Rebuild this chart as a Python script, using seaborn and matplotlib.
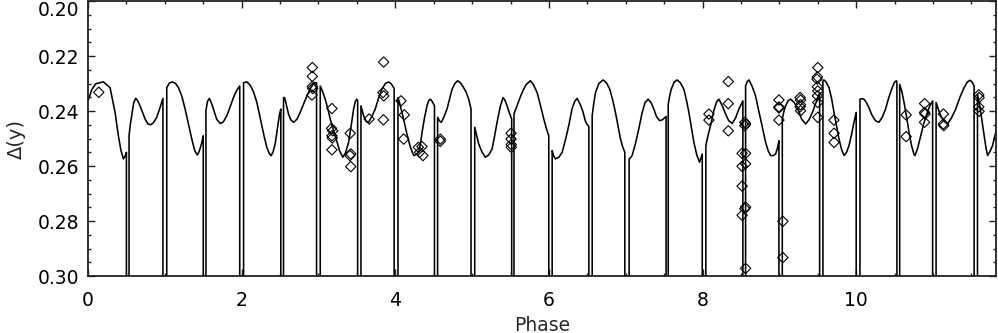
import numpy as np
import pandas as pd
import seaborn as sns
import matplotlib.pyplot as plt
from matplotlib.ticker import MultipleLocator

# model light curve, one list per stretch between eclipses
segments = [
    [(0.0, 0.2362), (0.05, 0.2322), (0.10, 0.2301), (0.20, 0.2294), (0.287, 0.2315), (0.352, 0.2405),
     (0.395, 0.2490), (0.43, 0.2545), (0.46, 0.2574), (0.48, 0.2565), (0.50, 0.2550)],
    [(0.534, 0.2490), (0.55, 0.2450), (0.569, 0.2417), (0.595, 0.2370), (0.621, 0.2354), (0.645, 0.2362),
     (0.677, 0.2381), (0.743, 0.2429), (0.78, 0.2447), (0.816, 0.2450), (0.85, 0.2443), (0.894, 0.2423),
     (0.935, 0.2390), (0.975, 0.2354)],
    [(1.025, 0.2315), (1.06, 0.2298), (1.099, 0.2294), (1.14, 0.2300), (1.177, 0.2315), (1.22, 0.2345),
     (1.264, 0.2393), (1.31, 0.2450), (1.351, 0.2502), (1.39, 0.2545), (1.424, 0.2560), (1.45, 0.2545),
     (1.48, 0.2516), (1.50, 0.2490)],
    [(1.535, 0.2399), (1.555, 0.2365), (1.58, 0.2354), (1.605, 0.2370), (1.633, 0.2393), (1.675, 0.2430),
     (1.72, 0.2445), (1.76, 0.2440), (1.807, 0.2417), (1.85, 0.2385), (1.893, 0.2351), (1.935, 0.2325),
     (1.975, 0.2309)],
    [(2.025, 0.2297), (2.067, 0.2294), (2.111, 0.2306), (2.154, 0.2330), (2.198, 0.2369), (2.23, 0.2410),
     (2.263, 0.2453), (2.295, 0.2495), (2.328, 0.2532), (2.36, 0.2555), (2.384, 0.2562), (2.41, 0.2548),
     (2.436, 0.2520), (2.465, 0.2465), (2.493, 0.2411), (2.51, 0.2393)],
    [(2.545, 0.2351), (2.558, 0.2351), (2.58, 0.2375), (2.61, 0.2411), (2.64, 0.2432), (2.675, 0.2441),
     (2.72, 0.2430), (2.762, 0.2405), (2.805, 0.2375), (2.85, 0.2345), (2.90, 0.2315), (2.945, 0.2297),
     (2.975, 0.2297)],
    [(3.023, 0.2309), (3.055, 0.2330), (3.088, 0.2357), (3.12, 0.2390), (3.153, 0.2429), (3.19, 0.2465),
     (3.231, 0.2502), (3.275, 0.2545), (3.318, 0.2568), (3.355, 0.2550), (3.392, 0.2514), (3.425, 0.2455),
     (3.457, 0.2393), (3.48, 0.2365), (3.50, 0.2357), (3.51, 0.2362)],
    [(3.553, 0.2381), (3.587, 0.2417), (3.62, 0.2437), (3.652, 0.2441), (3.695, 0.2420), (3.739, 0.2393),
     (3.78, 0.2355), (3.826, 0.2321), (3.87, 0.2300), (3.913, 0.2294), (3.95, 0.2302), (3.985, 0.2318)],
    [(4.035, 0.2351), (4.06, 0.2375), (4.087, 0.2405), (4.12, 0.2445), (4.152, 0.2484), (4.195, 0.2530),
     (4.239, 0.2562), (4.27, 0.2558), (4.304, 0.2550), (4.33, 0.2515), (4.348, 0.2478), (4.38, 0.2425),
     (4.413, 0.2381), (4.435, 0.2362), (4.456, 0.2357), (4.48, 0.2365), (4.51, 0.2381)],
    [(4.551, 0.2423), (4.575, 0.2436), (4.60, 0.2441), (4.635, 0.2420), (4.673, 0.2393), (4.705, 0.2358),
     (4.739, 0.2321), (4.775, 0.2300), (4.812, 0.2290), (4.85, 0.2298), (4.89, 0.2315), (4.925, 0.2333),
     (4.955, 0.2357), (4.986, 0.2393)],
    [(5.034, 0.2459), (5.06, 0.2490), (5.086, 0.2520), (5.13, 0.2550), (5.173, 0.2568), (5.215, 0.2560),
     (5.26, 0.2538), (5.29, 0.2495), (5.325, 0.2441), (5.365, 0.2385), (5.403, 0.2351), (5.43, 0.2362),
     (5.455, 0.2381), (5.48, 0.2403), (5.515, 0.2429)],
    [(5.545, 0.2411), (5.565, 0.2395), (5.585, 0.2381), (5.615, 0.2358), (5.65, 0.2333), (5.70, 0.2305),
     (5.759, 0.2290), (5.80, 0.2305), (5.846, 0.2333), (5.89, 0.2380), (5.933, 0.2429), (5.965, 0.2462),
     (5.998, 0.2490)],
    [(6.042, 0.2544), (6.06, 0.2562), (6.085, 0.2574), (6.13, 0.2568), (6.172, 0.2550), (6.215, 0.2505),
     (6.258, 0.2453), (6.30, 0.2393), (6.335, 0.2365), (6.367, 0.2354), (6.41, 0.2378), (6.44, 0.2400),
     (6.476, 0.2438), (6.50, 0.2450), (6.52, 0.2456)],
    [(6.563, 0.2417), (6.585, 0.2370), (6.606, 0.2333), (6.65, 0.2300), (6.706, 0.2287), (6.75, 0.2298),
     (6.792, 0.2321), (6.83, 0.2360), (6.866, 0.2405), (6.90, 0.2455), (6.932, 0.2502), (6.96, 0.2530),
     (6.988, 0.2550)],
    [(7.044, 0.2574), (7.06, 0.2570), (7.083, 0.2562), (7.125, 0.2520), (7.17, 0.2465), (7.21, 0.2410),
     (7.25, 0.2370), (7.292, 0.2357), (7.33, 0.2370), (7.366, 0.2393), (7.40, 0.2420), (7.44, 0.2435),
     (7.475, 0.2432), (7.525, 0.2420)],
    [(7.553, 0.2375), (7.572, 0.2345), (7.592, 0.2321), (7.63, 0.2295), (7.67, 0.2287), (7.71, 0.2297),
     (7.757, 0.2321), (7.79, 0.2360), (7.822, 0.2405), (7.855, 0.2460), (7.887, 0.2514), (7.925, 0.2560),
     (7.961, 0.2586), (7.996, 0.2556)],
    [(8.043, 0.2526), (8.07, 0.2490), (8.104, 0.2453), (8.15, 0.2395), (8.185, 0.2365), (8.213, 0.2357),
     (8.255, 0.2380), (8.30, 0.2411), (8.34, 0.2435), (8.386, 0.2445), (8.43, 0.2425), (8.473, 0.2393),
     (8.525, 0.2363)],
    [(8.56, 0.2309), (8.58, 0.2293), (8.604, 0.2287), (8.645, 0.2310), (8.69, 0.2345), (8.72, 0.2385),
     (8.755, 0.2429), (8.79, 0.2475), (8.821, 0.2514), (8.855, 0.2545), (8.886, 0.2562), (8.92, 0.2562),
     (8.951, 0.2556), (8.975, 0.2535), (8.994, 0.2508)],
    [(9.038, 0.2429), (9.06, 0.2400), (9.081, 0.2381), (9.115, 0.2362), (9.147, 0.2357), (9.19, 0.2368),
     (9.233, 0.2387), (9.29, 0.2430), (9.342, 0.2447), (9.385, 0.2432), (9.43, 0.2405), (9.465, 0.2378),
     (9.494, 0.2357), (9.524, 0.2333)],
    [(9.567, 0.2290), (9.58, 0.2287), (9.61, 0.2295), (9.646, 0.2315), (9.68, 0.2355), (9.711, 0.2405),
     (9.745, 0.2455), (9.776, 0.2502), (9.81, 0.2540), (9.841, 0.2562), (9.875, 0.2550), (9.906, 0.2526),
     (9.94, 0.2485), (9.971, 0.2441), (10.0, 0.2405)],
    [(10.049, 0.2357), (10.075, 0.2355), (10.10, 0.2357), (10.13, 0.2368), (10.165, 0.2387), (10.20, 0.2412),
     (10.25, 0.2435), (10.295, 0.2441), (10.34, 0.2422), (10.382, 0.2393), (10.42, 0.2355), (10.469, 0.2315),
     (10.495, 0.2297), (10.521, 0.2290), (10.53, 0.2292)],
    [(10.566, 0.2303), (10.595, 0.2330), (10.623, 0.2369), (10.655, 0.2420), (10.688, 0.2478), (10.72, 0.2525),
     (10.753, 0.2558), (10.766, 0.2562), (10.80, 0.2535), (10.84, 0.2490), (10.88, 0.2445), (10.927, 0.2405),
     (10.96, 0.2380), (10.995, 0.2363)],
    [(11.04, 0.2369), (11.07, 0.2395), (11.101, 0.2417), (11.145, 0.2438), (11.188, 0.2447), (11.24, 0.2425),
     (11.296, 0.2393), (11.35, 0.2350), (11.405, 0.2315), (11.445, 0.2295), (11.483, 0.2288), (11.51, 0.2295),
     (11.535, 0.2309)],
    [(11.579, 0.2339), (11.60, 0.2370), (11.622, 0.2405), (11.645, 0.2450), (11.666, 0.2490), (11.69, 0.2535),
     (11.71, 0.2562), (11.74, 0.2548), (11.775, 0.2526), (11.80, 0.2495), (11.83, 0.2465)],
]
eclipse_depth = 0.33  # light drops well below the plotted range during each eclipse

# observed points (diamonds)
obs_phase = [0.14,
             2.92, 2.92, 2.92, 2.925, 2.915,
             3.175, 3.17, 3.185, 3.175, 3.18, 3.175,
             3.413, 3.42, 3.41, 3.42,
             3.66,
             3.848, 3.84, 3.85, 3.845,
             4.074, 4.117, 4.109,
             4.30, 4.347, 4.316, 4.36,
             4.586, 4.586,
             5.507, 5.507, 5.51, 5.51,
             8.083, 8.083,
             8.335, 8.335, 8.335,
             8.55, 8.56, 8.55, 8.515, 8.56, 8.56, 8.515, 8.515, 8.56, 8.55, 8.515, 8.56,
             9.045, 9.045,
             8.994, 8.994, 8.994, 8.994,
             9.27, 9.275, 9.275, 9.27, 9.275,
             9.50, 9.495, 9.49, 9.495, 9.50, 9.495, 9.50, 9.50,
             9.71, 9.712, 9.712,
             10.65, 10.65,
             10.89, 10.89, 10.895, 10.89,
             11.135, 11.135, 11.14,
             11.596, 11.60, 11.596, 11.60]
obs_dy = [0.2332,
          0.2242, 0.2274, 0.2311, 0.2318, 0.2342,
          0.2391, 0.2463, 0.2472, 0.2490, 0.2498, 0.2541,
          0.2481, 0.2556, 0.2562, 0.2602,
          0.2429,
          0.2222, 0.2333, 0.2345, 0.2432,
          0.2363, 0.2414, 0.2502,
          0.2532, 0.2529, 0.2550, 0.2562,
          0.2502, 0.2510,
          0.2481, 0.2502, 0.2522, 0.2532,
          0.2411, 0.2433,
          0.2293, 0.2373, 0.2472,
          0.2441, 0.2447, 0.2453, 0.2554, 0.2554, 0.2592, 0.2601, 0.2673, 0.2749, 0.2755, 0.2779, 0.2972,
          0.2801, 0.2933,
          0.2360, 0.2385, 0.2389, 0.2433,
          0.2351, 0.2360, 0.2377, 0.2385, 0.2399,
          0.2242, 0.2276, 0.2284, 0.2312, 0.2327, 0.2345, 0.2369, 0.2423,
          0.2433, 0.2481, 0.2514,
          0.2414, 0.2493,
          0.2373, 0.2405, 0.2411, 0.2441,
          0.2411, 0.2447, 0.2453,
          0.2341, 0.2351, 0.2385, 0.2401]

# join the stretches, dipping out of the plot at each eclipse
curve_x, curve_y = [], []
for i, seg in enumerate(segments):
    for x, y in seg:
        curve_x.append(x)
        curve_y.append(y)
    if i < len(segments) - 1:
        curve_x += [seg[-1][0], segments[i + 1][0][0]]
        curve_y += [eclipse_depth, eclipse_depth]
curve = pd.DataFrame({'phase': curve_x, 'dy': curve_y})
obs = pd.DataFrame({'phase': obs_phase, 'dy': obs_dy})

sns.set_style('ticks')
plt.rcParams['font.family'] = ['DejaVu Sans']

fig = plt.figure(figsize=(9.98, 3.33), dpi=100)
ax = fig.add_axes([0.0882, 0.171, 0.9098, 0.826])

sns.lineplot(data=curve, x='phase', y='dy', sort=False, estimator=None, color='black', lw=1.15, ax=ax)
sns.scatterplot(data=obs, x='phase', y='dy', marker='D', s=28, facecolor='none', edgecolor='black',
                linewidth=0.8, ax=ax, zorder=3)

ax.set_xlim(0, 11.82)
ax.set_ylim(0.30, 0.20)
ax.xaxis.set_major_locator(MultipleLocator(2))
ax.xaxis.set_minor_locator(MultipleLocator(0.5))
ax.yaxis.set_major_locator(MultipleLocator(0.02))
ax.yaxis.set_minor_locator(MultipleLocator(0.005))
ax.yaxis.set_major_formatter(plt.FormatStrFormatter('%.2f'))
ax.tick_params(which='both', direction='in', top=True, right=True, colors='#222222', labelcolor='black')
ax.tick_params(which='major', length=5, width=1, labelsize=13.5)
ax.tick_params(which='minor', length=2.5, width=1)
ax.tick_params(axis='x', which='major', pad=11)
ax.tick_params(axis='y', which='major', pad=6)
for sp in ax.spines.values():
    sp.set_linewidth(1.3)
    sp.set_color('#222222')

ax.set_xlabel('Phase', fontsize=13.5, labelpad=4)
ax.set_ylabel('Δ(y)', fontsize=14, labelpad=9)

# keep the top tick label inside the figure
fig.canvas.draw()
for lab in ax.get_yticklabels():
    if lab.get_text() == '0.20':
        lab.set_verticalalignment('top')

fig.savefig('out.png', dpi=100)
